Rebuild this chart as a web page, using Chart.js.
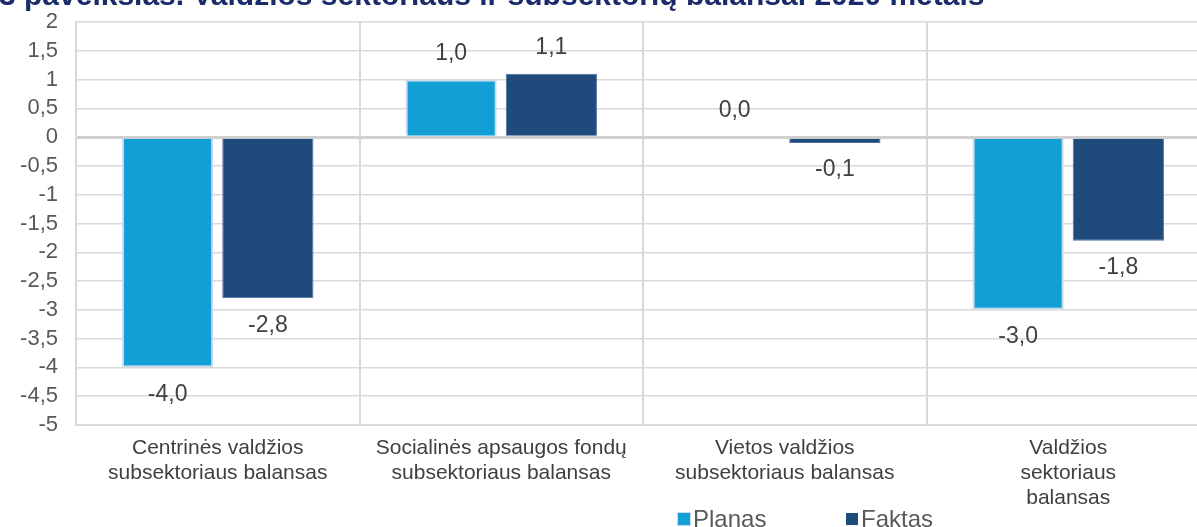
<!DOCTYPE html>
<html>
<head>
<meta charset="utf-8">
<script src="https://cdn.jsdelivr.net/npm/chart.js@4/dist/chart.umd.min.js"></script>
<style>
  html, body { margin: 0; padding: 0; background: #fff; overflow: hidden; }
  #wrap { width: 1210px; height: 527px; }
</style>
</head>
<body>
<div id="wrap"><canvas id="grafikas" width="1210" height="527"></canvas></div>
<script>
// Duomenys
const pavadinimas = '3 paveikslas. Valdžios sektoriaus ir subsektorių balansai 2020 metais';
const kategorijos = [
  ['Centrinės valdžios', 'subsektoriaus balansas'],
  ['Socialinės apsaugos fondų', 'subsektoriaus balansas'],
  ['Vietos valdžios', 'subsektoriaus balansas'],
  ['Valdžios', 'sektoriaus', 'balansas']
];
const planas = [-4.0, 1.0, 0.0, -3.0];
const faktas = [-2.8, 1.1, -0.1, -1.8];
const serijuPavadinimai = ['Planas', 'Faktas'];

const kablelis = v => String(v).replace('.', ',');
const sriftas = 'Arial, "Liberation Sans", sans-serif';

// pavadinimas (nukirptas virsuje kaip originale)
const pavadinimoPlugin = {
  id: 'pavadinimas',
  afterDraw(chart) {
    const ctx = chart.ctx;
    ctx.save();
    ctx.font = 'bold 30px ' + sriftas;
    ctx.fillStyle = '#1B2A6B';
    ctx.textAlign = 'left';
    ctx.textBaseline = 'alphabetic';
    ctx.fillText(pavadinimas, -1, 5);
    ctx.restore();
  }
};

// reiksmiu etiketes
const etikeciuPlugin = {
  id: 'etiketes',
  afterDatasetsDraw(chart) {
    const ctx = chart.ctx;
    ctx.save();
    ctx.font = '23px ' + sriftas;
    ctx.fillStyle = '#404040';
    ctx.textAlign = 'center';
    ctx.textBaseline = 'middle';
    chart.data.datasets.forEach((ds, i) => {
      chart.getDatasetMeta(i).data.forEach((bar, j) => {
        const v = ds.data[j];
        const y = v >= 0 ? bar.y - 26 : bar.y + 27;
        ctx.fillText(kablelis(v.toFixed(1)), bar.x, y);
      });
    });
    ctx.restore();
  }
};

// legenda apacioje
const legendosPlugin = {
  id: 'legenda',
  afterDraw(chart) {
    const ctx = chart.ctx;
    const pozicijos = [678, 846];
    const y = 519;
    ctx.save();
    ctx.font = '24px ' + sriftas;
    ctx.textAlign = 'left';
    ctx.textBaseline = 'middle';
    chart.data.datasets.forEach((ds, i) => {
      const x = pozicijos[i];
      ctx.fillStyle = ds.backgroundColor;
      ctx.fillRect(x, y - 6, 12, 12);
      if (i === 0) {
        ctx.strokeStyle = ds.borderColor;
        ctx.lineWidth = 1;
        ctx.strokeRect(x - 0.5, y - 6.5, 13, 13);
      }
      ctx.fillStyle = '#595959';
      ctx.fillText(ds.label, x + 15, y + 1);
    });
    ctx.restore();
  }
};

const ctx = document.getElementById('grafikas').getContext('2d');
new Chart(ctx, {
  type: 'bar',
  data: {
    labels: kategorijos,
    datasets: [
      {
        label: serijuPavadinimai[0],
        data: planas,
        backgroundColor: '#119FD6',
        borderColor: '#CDD8EE',
        borderWidth: 2,
        categoryPercentage: 0.707,
        barPercentage: 0.91
      },
      {
        label: serijuPavadinimai[1],
        data: faktas,
        backgroundColor: '#1F4A7C',
        borderColor: '#4F6E9C',
        borderWidth: 1,
        categoryPercentage: 0.707,
        barPercentage: 0.91
      }
    ]
  },
  options: {
    responsive: false,
    animation: false,
    layout: { padding: { top: 22, right: 0, left: 0, bottom: 0 } },
    plugins: {
      legend: { display: false },
      tooltip: { enabled: false }
    },
    scales: {
      x: {
        grid: {
          offset: true,
          color: '#D9D9D9',
          lineWidth: 2,
          drawTicks: false
        },
        border: { color: '#D9D9D9', width: 2 },
        ticks: {
          color: '#404040',
          font: { family: sriftas, size: 21, lineHeight: 1.19 },
          padding: 11,
          maxRotation: 0,
          autoSkip: false
        },
        afterFit(scale) { scale.height = 102; }
      },
      y: {
        min: -5,
        max: 2,
        ticks: {
          stepSize: 0.5,
          autoSkip: false,
          color: '#595959',
          font: { family: sriftas, size: 22 },
          padding: 18,
          callback: v => kablelis(v)
        },
        grid: {
          color: c => c.tick && c.tick.value === 0 ? '#D0D0D0' : '#D9D9D9',
          lineWidth: c => c.tick && c.tick.value === 0 ? 3 : 1.5,
          drawTicks: false
        },
        border: { color: '#D9D9D9', width: 2 },
        afterFit(scale) {
          scale.width = 76;
          scale.paddingTop = 0;
          scale.paddingBottom = 0;
        }
      }
    }
  },
  plugins: [pavadinimoPlugin, etikeciuPlugin, legendosPlugin]
});
</script>
</body>
</html>
